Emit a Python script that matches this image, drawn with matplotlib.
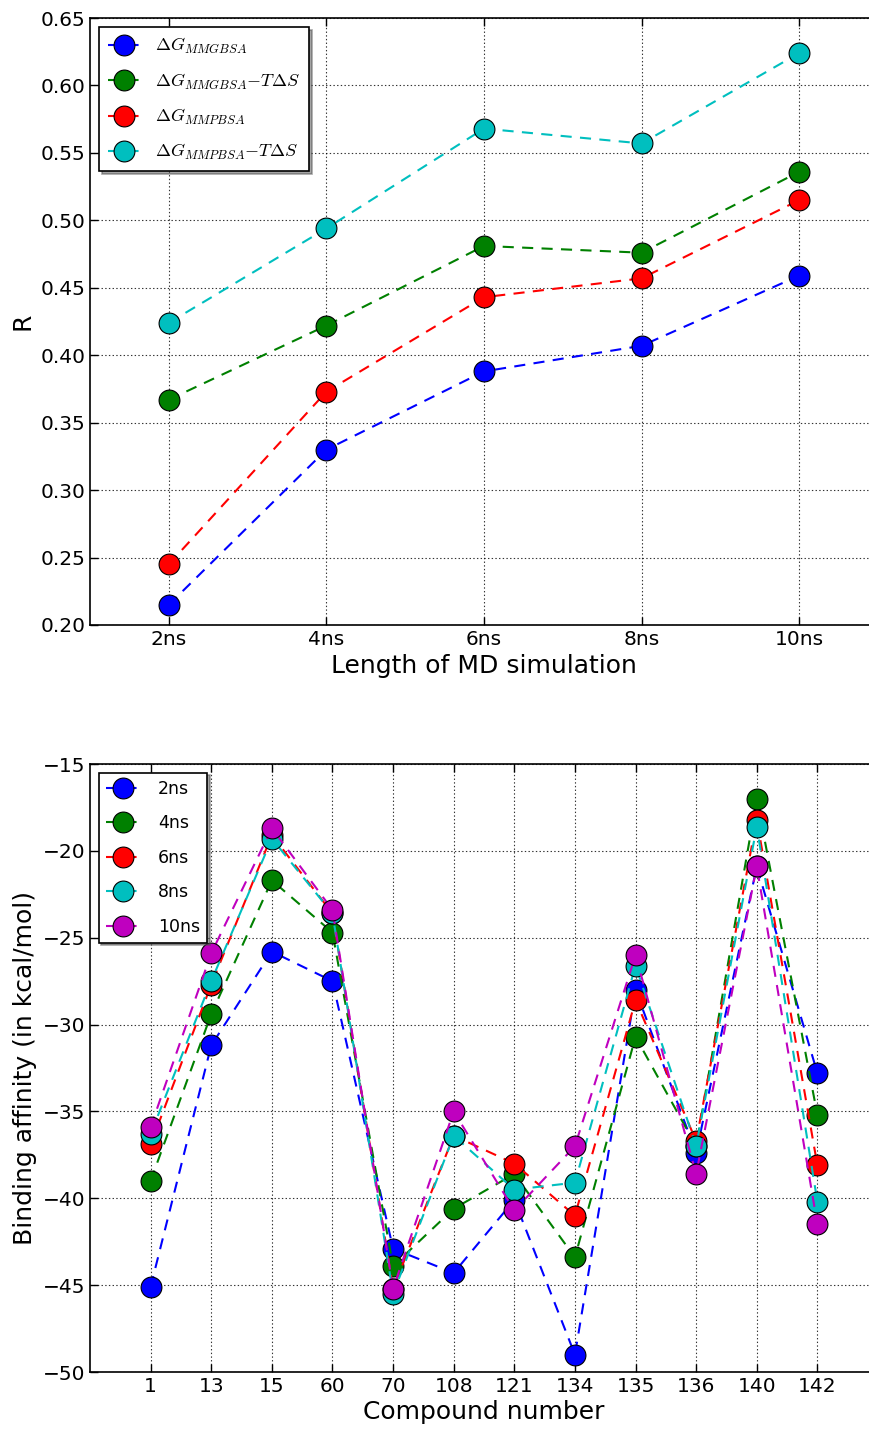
import matplotlib
matplotlib.use("Agg")
import matplotlib.pyplot as plt
import numpy as np

plt.rcParams['mathtext.fontset'] = 'cm'
plt.rcParams['lines.scale_dashes'] = False
plt.rcParams['xtick.direction'] = 'in'
plt.rcParams['ytick.direction'] = 'in'
plt.rcParams['xtick.top'] = True
plt.rcParams['ytick.right'] = True

# ---- top panel data ----
md_len = [2, 4, 6, 8, 10]
md_labels = ['2ns', '4ns', '6ns', '8ns', '10ns']
r_mmgbsa = [0.215, 0.330, 0.388, 0.407, 0.459]
r_mmgbsa_ts = [0.367, 0.422, 0.481, 0.476, 0.536]
r_mmpbsa = [0.245, 0.373, 0.443, 0.457, 0.515]
r_mmpbsa_ts = [0.424, 0.494, 0.568, 0.557, 0.624]
top_labels = [r'$\Delta G_{MMGBSA}$',
              r'$\Delta G_{MMGBSA}{-}T\Delta S$',
              r'$\Delta G_{MMPBSA}$',
              r'$\Delta G_{MMPBSA}{-}T\Delta S$']

# ---- bottom panel data ----
compounds = ['1', '13', '15', '60', '70', '108', '121', '134', '135', '136', '140', '142']
ba_2ns = [-45.1, -31.2, -25.8, -27.5, -42.9, -44.3, -40.1, -49.0, -28.0, -37.4, -20.9, -32.8]
ba_4ns = [-39.0, -29.4, -21.7, -24.7, -43.9, -40.6, -38.6, -43.4, -30.7, -37.0, -17.0, -35.2]
ba_6ns = [-36.9, -27.7, -19.1, -23.6, -45.2, -36.4, -38.0, -41.0, -28.6, -36.7, -18.2, -38.1]
ba_8ns = [-36.3, -27.5, -19.3, -23.6, -45.5, -36.4, -39.5, -39.1, -26.6, -37.0, -18.6, -40.2]
ba_10ns = [-35.9, -25.9, -18.7, -23.4, -45.2, -35.0, -40.7, -37.0, -26.0, -38.6, -20.9, -41.5]

colors = ['#0000ff', '#008000', '#ff0000', '#00bfbf', '#bf00bf']

fig = plt.figure(figsize=(8.7, 14.29), dpi=100)
W, H = 870.0, 1429.0
ax1 = fig.add_axes([90 / W, 1 - 625 / H, 788 / W, 607 / H])
ax2 = fig.add_axes([90 / W, 1 - 1372 / H, 788 / W, 608 / H])

style = dict(linestyle='--', dashes=(8, 6), linewidth=1.5, marker='o',
             markersize=15, markeredgecolor='black', markeredgewidth=0.8)

for vals, c, lab in zip([r_mmgbsa, r_mmgbsa_ts, r_mmpbsa, r_mmpbsa_ts], colors, top_labels):
    ax1.plot(md_len, vals, color=c, label=lab, **style)

ax1.set_xlim(1, 11)
ax1.set_ylim(0.20, 0.65)
ax1.set_xticks(md_len)
ax1.set_xticklabels(md_labels)
ax1.set_yticks(np.arange(0.20, 0.651, 0.05))
ax1.yaxis.set_major_formatter(matplotlib.ticker.FormatStrFormatter('%.2f'))
ax1.set_xlabel('Length of MD simulation', fontsize=18)
ax1.set_ylabel('R', fontsize=18)
ax1.grid(True, color='black', linestyle=':', linewidth=0.8, alpha=0.8)
leg1 = ax1.legend(loc='upper left', fontsize=13, numpoints=1, shadow=True,
                  fancybox=False, framealpha=1, edgecolor='black',
                  handlelength=1.8, borderpad=0.5, labelspacing=0.85)
leg1.get_frame().set_linewidth(1.2)

x2 = np.arange(1, len(compounds) + 1)
for vals, c, lab in zip([ba_2ns, ba_4ns, ba_6ns, ba_8ns, ba_10ns], colors, md_labels):
    ax2.plot(x2, vals, color=c, label=lab, **style)

ax2.set_xlim(0, 13)
ax2.set_ylim(-50, -15)
ax2.set_xticks(x2)
ax2.set_xticklabels(compounds)
ax2.set_yticks(np.arange(-50, -14, 5))
ax2.set_xlabel('Compound number', fontsize=18, labelpad=3)
ax2.set_ylabel('Binding affinity (in kcal/mol)', fontsize=18)
ax2.grid(True, color='black', linestyle=':', linewidth=0.8, alpha=0.8)
leg2 = ax2.legend(loc='upper left', fontsize=12.5, numpoints=1, shadow=True,
                  fancybox=False, framealpha=1, edgecolor='black',
                  handlelength=2.0, handletextpad=1.0, borderpad=0.4,
                  labelspacing=0.95)
leg2.get_frame().set_linewidth(1.2)

for ax in (ax1, ax2):
    ax.tick_params(labelsize=14.5, length=6, width=1)
    for s in ax.spines.values():
        s.set_linewidth(1.2)

fig.savefig('out.png', dpi=100)
